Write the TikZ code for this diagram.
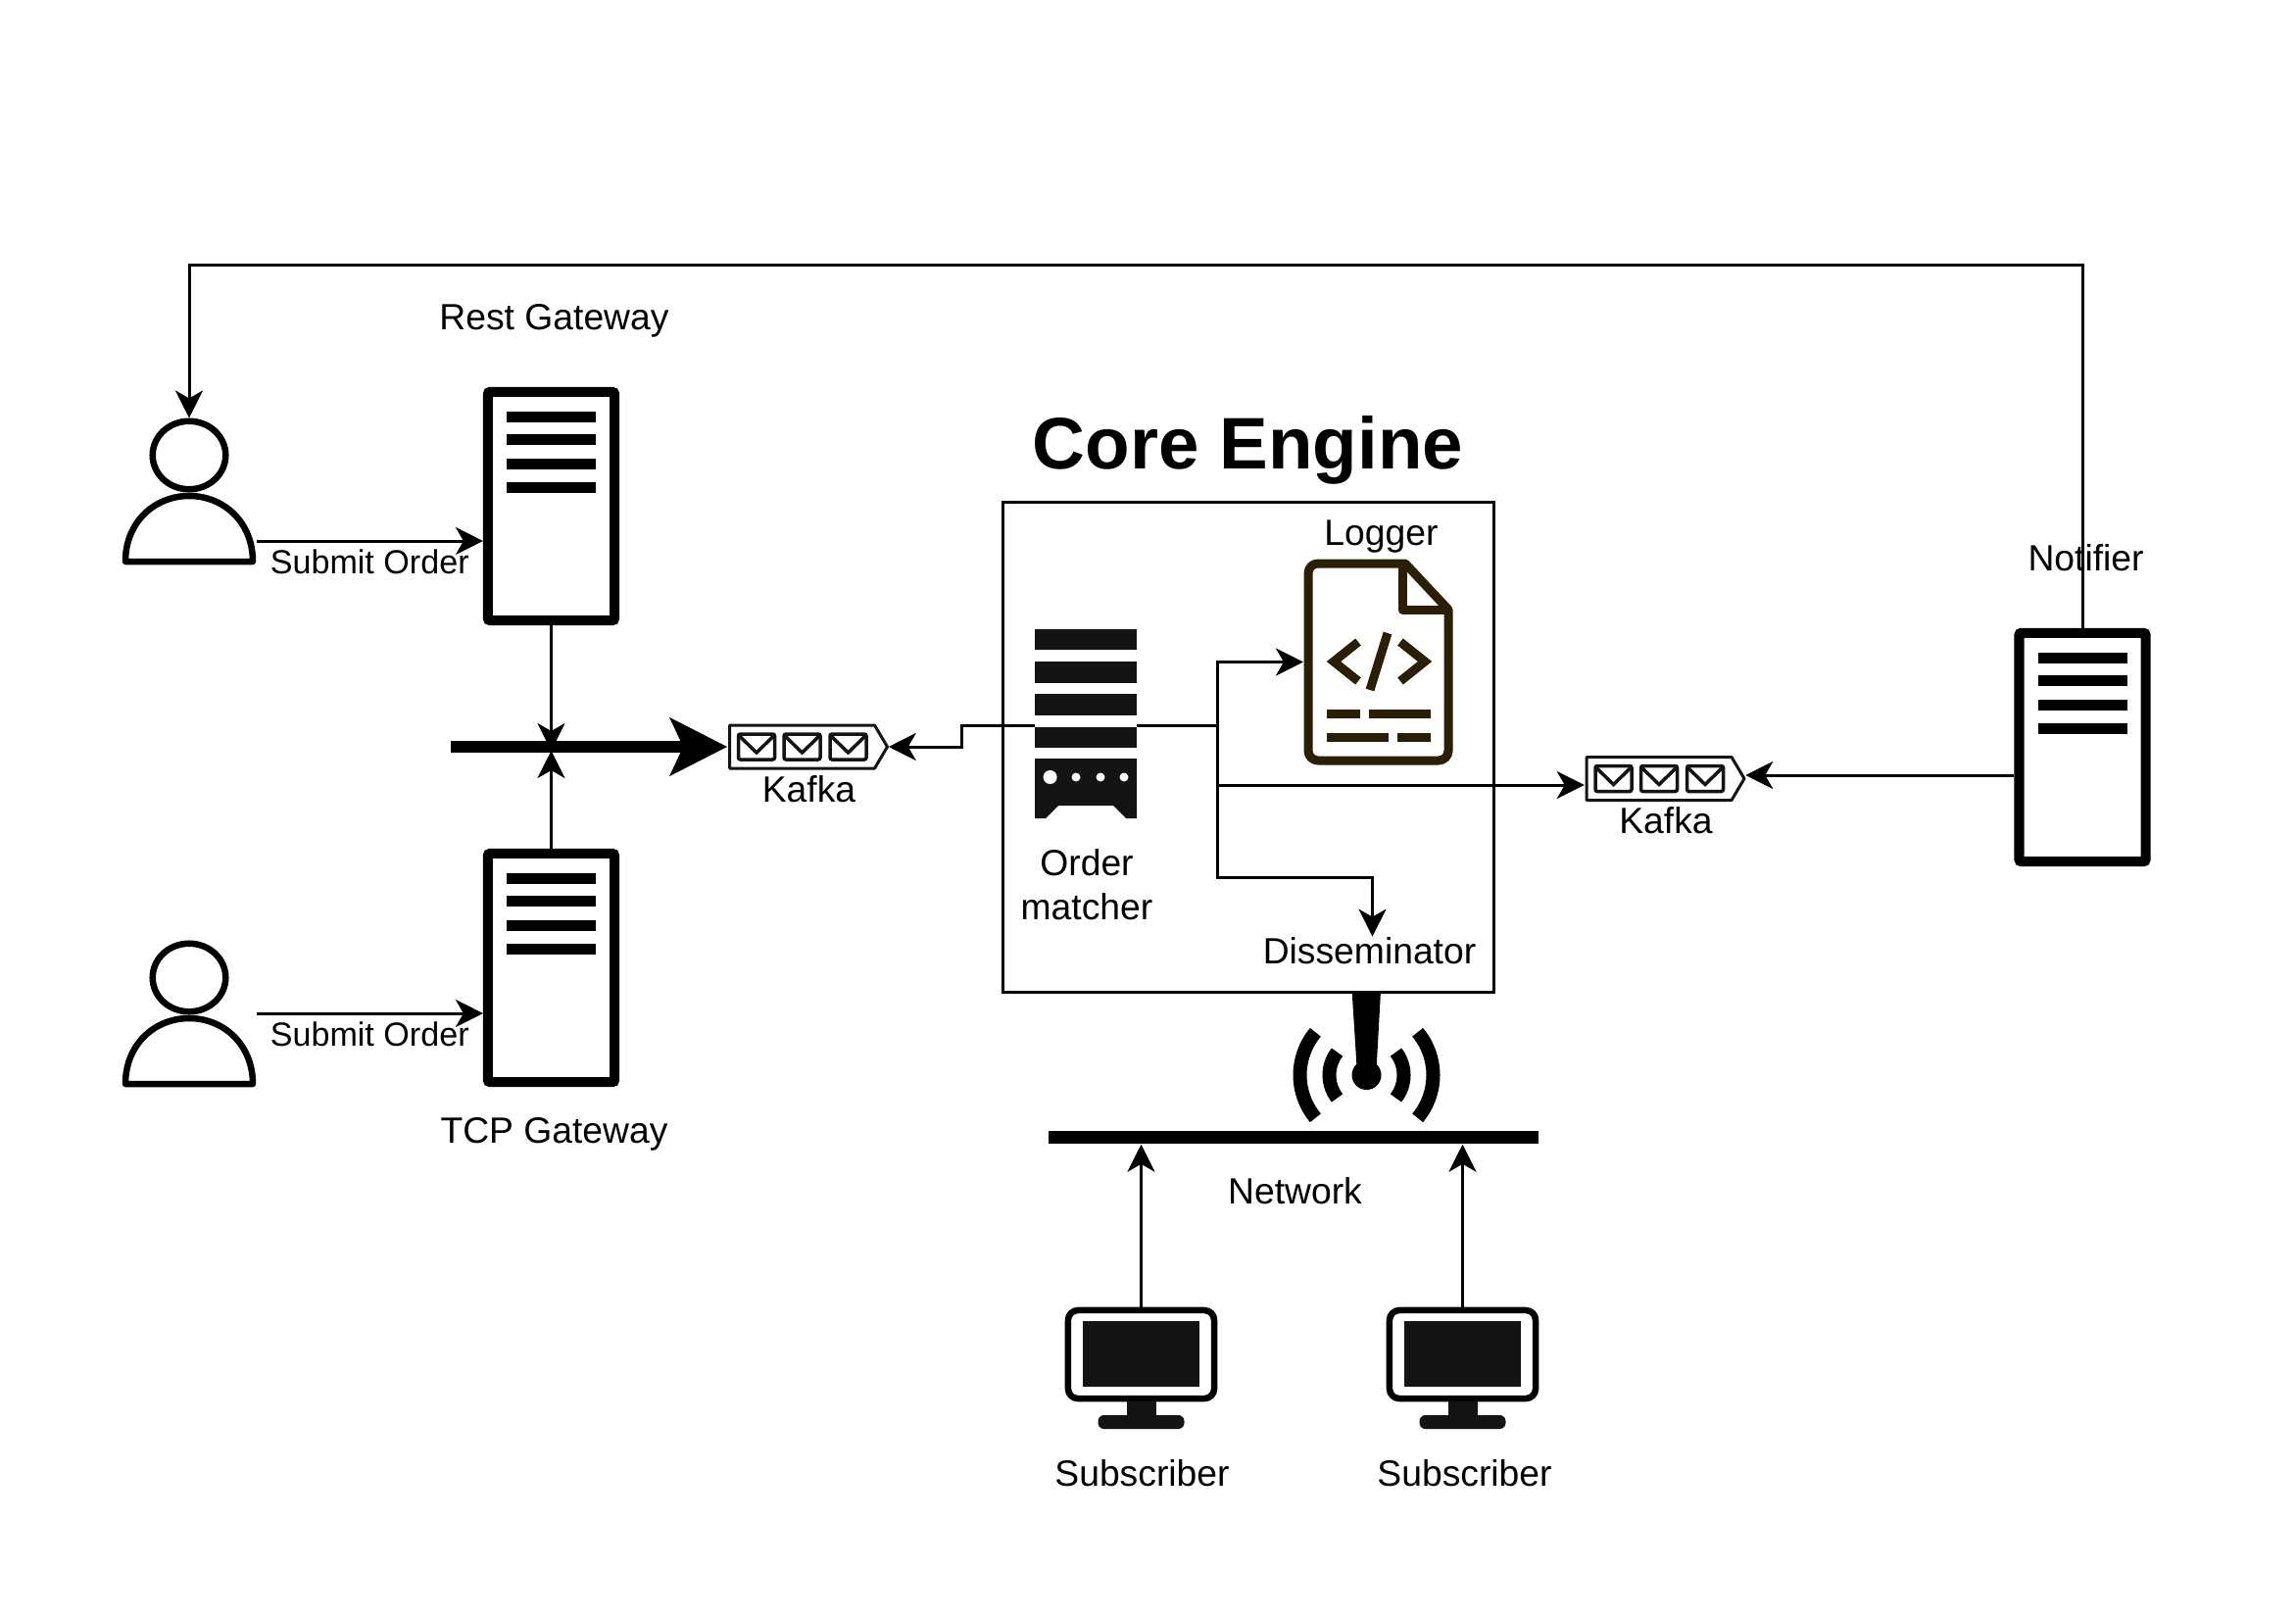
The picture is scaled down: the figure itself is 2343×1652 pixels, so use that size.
\documentclass[tikz,border=0pt]{standalone}
\usepackage{fontspec}
\setmainfont{Liberation Sans}
\usetikzlibrary{arrows.meta, positioning, fit, shapes.geometric}
\definecolor{iconblack}{HTML}{141414}
\definecolor{docbrown}{HTML}{2A1E05}

\tikzset{
    server/.pic={
        \node[draw, line width=1mm, rounded corners=0.2mm, inner sep=0pt,
              minimum width=1.29cm, minimum height=2.33cm] (-box) at (0,0) {};
        \foreach \barpos in {-91,-68,-43,-19}
            \draw[line width=1.1mm] (-45.5,\barpos) -- (45.5,\barpos);
    },
    person/.pic={
        \node[draw, ellipse, line width=0.65mm, inner sep=0pt,
              minimum width=0.745cm, minimum height=0.695cm] (-head) at (0,0) {};
        \draw[line width=0.65mm, line join=round] (-65,108.5)
            .. controls (-65,68) and (-35,41.5) .. (0,41.5)
            .. controls (35,41.5) and (65,68) .. (65,108.5) -- cycle;
    },
    monitor/.pic={
        \node[draw, line width=0.65mm, rounded corners=1mm, inner sep=0pt,
              minimum width=1.49cm, minimum height=0.9cm] (-box) at (0,0) {};
        \fill[iconblack] (-59.5,-34) rectangle (59.5,33);
        \fill[iconblack] (-15,48) rectangle (15,64);
        \fill[iconblack, rounded corners=0.6mm] (-44,62) rectangle (44,76);
    },
    envelope/.pic={
        \draw[line width=0.35mm, iconblack, rounded corners=0.2mm] (-18.5,-13) rectangle (18.5,13);
        \draw[line width=0.35mm, iconblack] (-18.5,-12) -- (0,6) -- (18.5,-12);
    },
    kafka/.pic={
        \node[inner sep=0pt, minimum width=1.63cm, minimum height=0.46cm] (-box) at (0,0) {};
        \draw[line width=0.3mm, iconblack, line join=round]
            (-80,-22) -- (68,-22) -- (81,0) -- (68,22) -- (-80,22) -- cycle;
        \pic at (-52.5,0) {envelope};
        \pic at (-6,0) {envelope};
        \pic at (41,0) {envelope};
    }
}

\begin{document}
\begin{tikzpicture}[
    x=0.01cm,
    y=-0.01cm,
    >={Stealth[length=2.8mm,width=2.8mm,inset=0.8mm]},
    conn/.style={->, line width=0.3mm},
    label/.style={inner sep=0pt, font=\fontsize{10.6pt}{12.8pt}\selectfont, align=center},
    edgelabel/.style={inner sep=0pt, font=\fontsize{9.7pt}{11.6pt}\selectfont},
    icon/.style={inner sep=0pt, outer sep=0pt}
]
\useasboundingbox (0,0) rectangle (2343,1652);

% Users and gateways
\pic (UserA) at (193,464.5) {person};
\pic (UserB) at (193,997.5) {person};
\pic (Rest) at (562.5,516.5) {server};
\pic (Tcp) at (562.5,987.5) {server};
\pic (Notifier) at (2125,762.5) {server};
\node[label] (RestLabel) at (565.5,327) {Rest Gateway};
\node[label] (TcpLabel) at (565.5,1157) {TCP Gateway};
\node[label] (NotifierLabel) at (2128.5,569.5) {Notifier};

% Kafka queues
\pic (KafkaIn) at (824.5,762) {kafka};
\pic (KafkaOut) at (1699,794.5) {kafka};
\node[label] (KafkaInLabel) at (825.5,805.5) {Kafka};
\node[label] (KafkaOutLabel) at (1700,837) {Kafka};

% Core engine box
\node[draw, line width=0.3mm, inner sep=0pt, minimum width=5.01cm, minimum height=4.99cm] (Core) at (1274,762.5) {};
\node[inner sep=0pt, font=\fontsize{21.2pt}{25pt}\selectfont\bfseries] (CoreTitle) at (1273.5,459) {Core Engine};
\node[label] (LoggerLabel) at (1409.5,548) {Logger};
\node[label] (OrderLabel) at (1109,902.5) {Order\\matcher};
\node[label] (Dissem) at (1397.5,970) {Disseminator};

% Order matcher icon
\node[icon, minimum width=1.04cm, minimum height=1.9cm] (Matcher) at (1108,740) {};
\foreach \bartop/\barbot in {642/663,675/697,708/730,742/763}
    \fill[iconblack] (1056,\bartop) rectangle (1160,\barbot);
\fill[iconblack] (1056,774) -- (1160,774) -- (1160,835) -- (1149,835) -- (1136,822)
    -- (1080,822) -- (1067,835) -- (1056,835) -- cycle;
\fill[white] (1071.6,793) circle (7);
\foreach \dotx in {1098,1123,1147}
    \fill[white] (\dotx,793) circle (4.5);

% Logger icon
\node[icon, minimum width=1.53cm, minimum height=2.11cm] (LogDoc) at (1406.5,675.5) {};
\draw[docbrown, line width=0.9mm, line join=round] (1434,575) -- (1345,575)
    to[out=180,in=90] (1335,585) -- (1335,766) to[out=-90,in=180] (1345,776)
    -- (1468,776) to[out=0,in=-90] (1478,766) -- (1478,622) -- cycle;
\draw[docbrown, line width=0.9mm, line join=round] (1431,575) -- (1431,622) -- (1478,622);
\draw[docbrown, line width=0.9mm] (1386,655) -- (1361,675) -- (1386,695);
\draw[docbrown, line width=0.9mm] (1429,655) -- (1454,675) -- (1429,695);
\draw[docbrown, line width=0.9mm] (1416,646) -- (1398,704);
\draw[docbrown, line width=0.9mm] (1354,728) -- (1388,728) (1397,728) -- (1460,728);
\draw[docbrown, line width=0.9mm] (1354,752) -- (1417,752) (1426,752) -- (1460,752);

% Network and antenna
\node[fill=black, inner sep=0pt, minimum width=5cm, minimum height=0.13cm] (Bus) at (1320,1160.5) {};
\node[label] (NetworkLabel) at (1321.5,1215) {Network};
\node[fill=black, circle, inner sep=0pt, minimum size=0.3cm] (Antenna) at (1394.5,1097) {};
\fill[black] (1379.6,1011) -- (1409,1011) -- (1404.6,1090) -- (1384.6,1090) -- cycle;
\draw[line width=1.4mm] (Antenna.center) ++(140:68) arc (140:220:68);
\draw[line width=1.4mm] (Antenna.center) ++(40:68) arc (40:-40:68);
\draw[line width=1.4mm] (Antenna.center) ++(142:38) arc (142:218:38);
\draw[line width=1.4mm] (Antenna.center) ++(38:38) arc (38:-38:38);

% Subscribers
\pic (SubA) at (1164.5,1382) {monitor};
\pic (SubB) at (1492.5,1382) {monitor};
\node[label] (SubALabel) at (1165.5,1503) {Subscriber};
\node[label] (SubBLabel) at (1494.5,1503) {Subscriber};

% Free ends
\coordinate (OutA) at (261.5,552);
\coordinate (OutB) at (261.5,1034);
\coordinate (TopTurn) at (193,271);
\coordinate (JoinTip) at (562.5,766);
\coordinate (MergeStart) at (460,762);
\coordinate (Split) at (1242,740);
\coordinate (SplitKafka) at (1242,801);
\coordinate (NotifierOut) at (2060,791);

% Arrows
\draw[conn] (OutA) -- (OutA -| Rest-box.west) node[edgelabel, midway, below=2.2pt] (SubmitA) {Submit Order};
\draw[conn] (OutB) -- (OutB -| Tcp-box.west) node[edgelabel, midway, below=2.2pt] (SubmitB) {Submit Order};
\draw[conn] (Rest-box.south) -- (JoinTip);
\draw[conn] (Tcp-box.north) -- (JoinTip);
\draw[->, line width=1.2mm, >={Stealth[length=5.8mm,width=5.8mm,inset=1.3mm]}] (MergeStart) -- (KafkaIn-box.west);
\draw[conn] (Matcher.west) -- ++(-74,0) |- (KafkaIn-box.east);
\draw[conn] (Matcher.east) -- (Split) |- (LogDoc.west);
\draw[conn] (Split) -- (SplitKafka) -- (SplitKafka -| KafkaOut-box.west);
\draw[conn] (Split) -- ++(0,155) -| ([xshift=0.3mm]Dissem.north);
\draw[conn] (NotifierOut -| Notifier-box.west) -- (NotifierOut -| KafkaOut-box.east);
\draw[conn] (Notifier-box.north) |- (TopTurn) -- (UserA-head.north);
\draw[conn] (SubA-box.north) -- (SubA-box.north |- Bus.south);
\draw[conn] (SubB-box.north) -- (SubB-box.north |- Bus.south);
\end{tikzpicture}
\end{document}
